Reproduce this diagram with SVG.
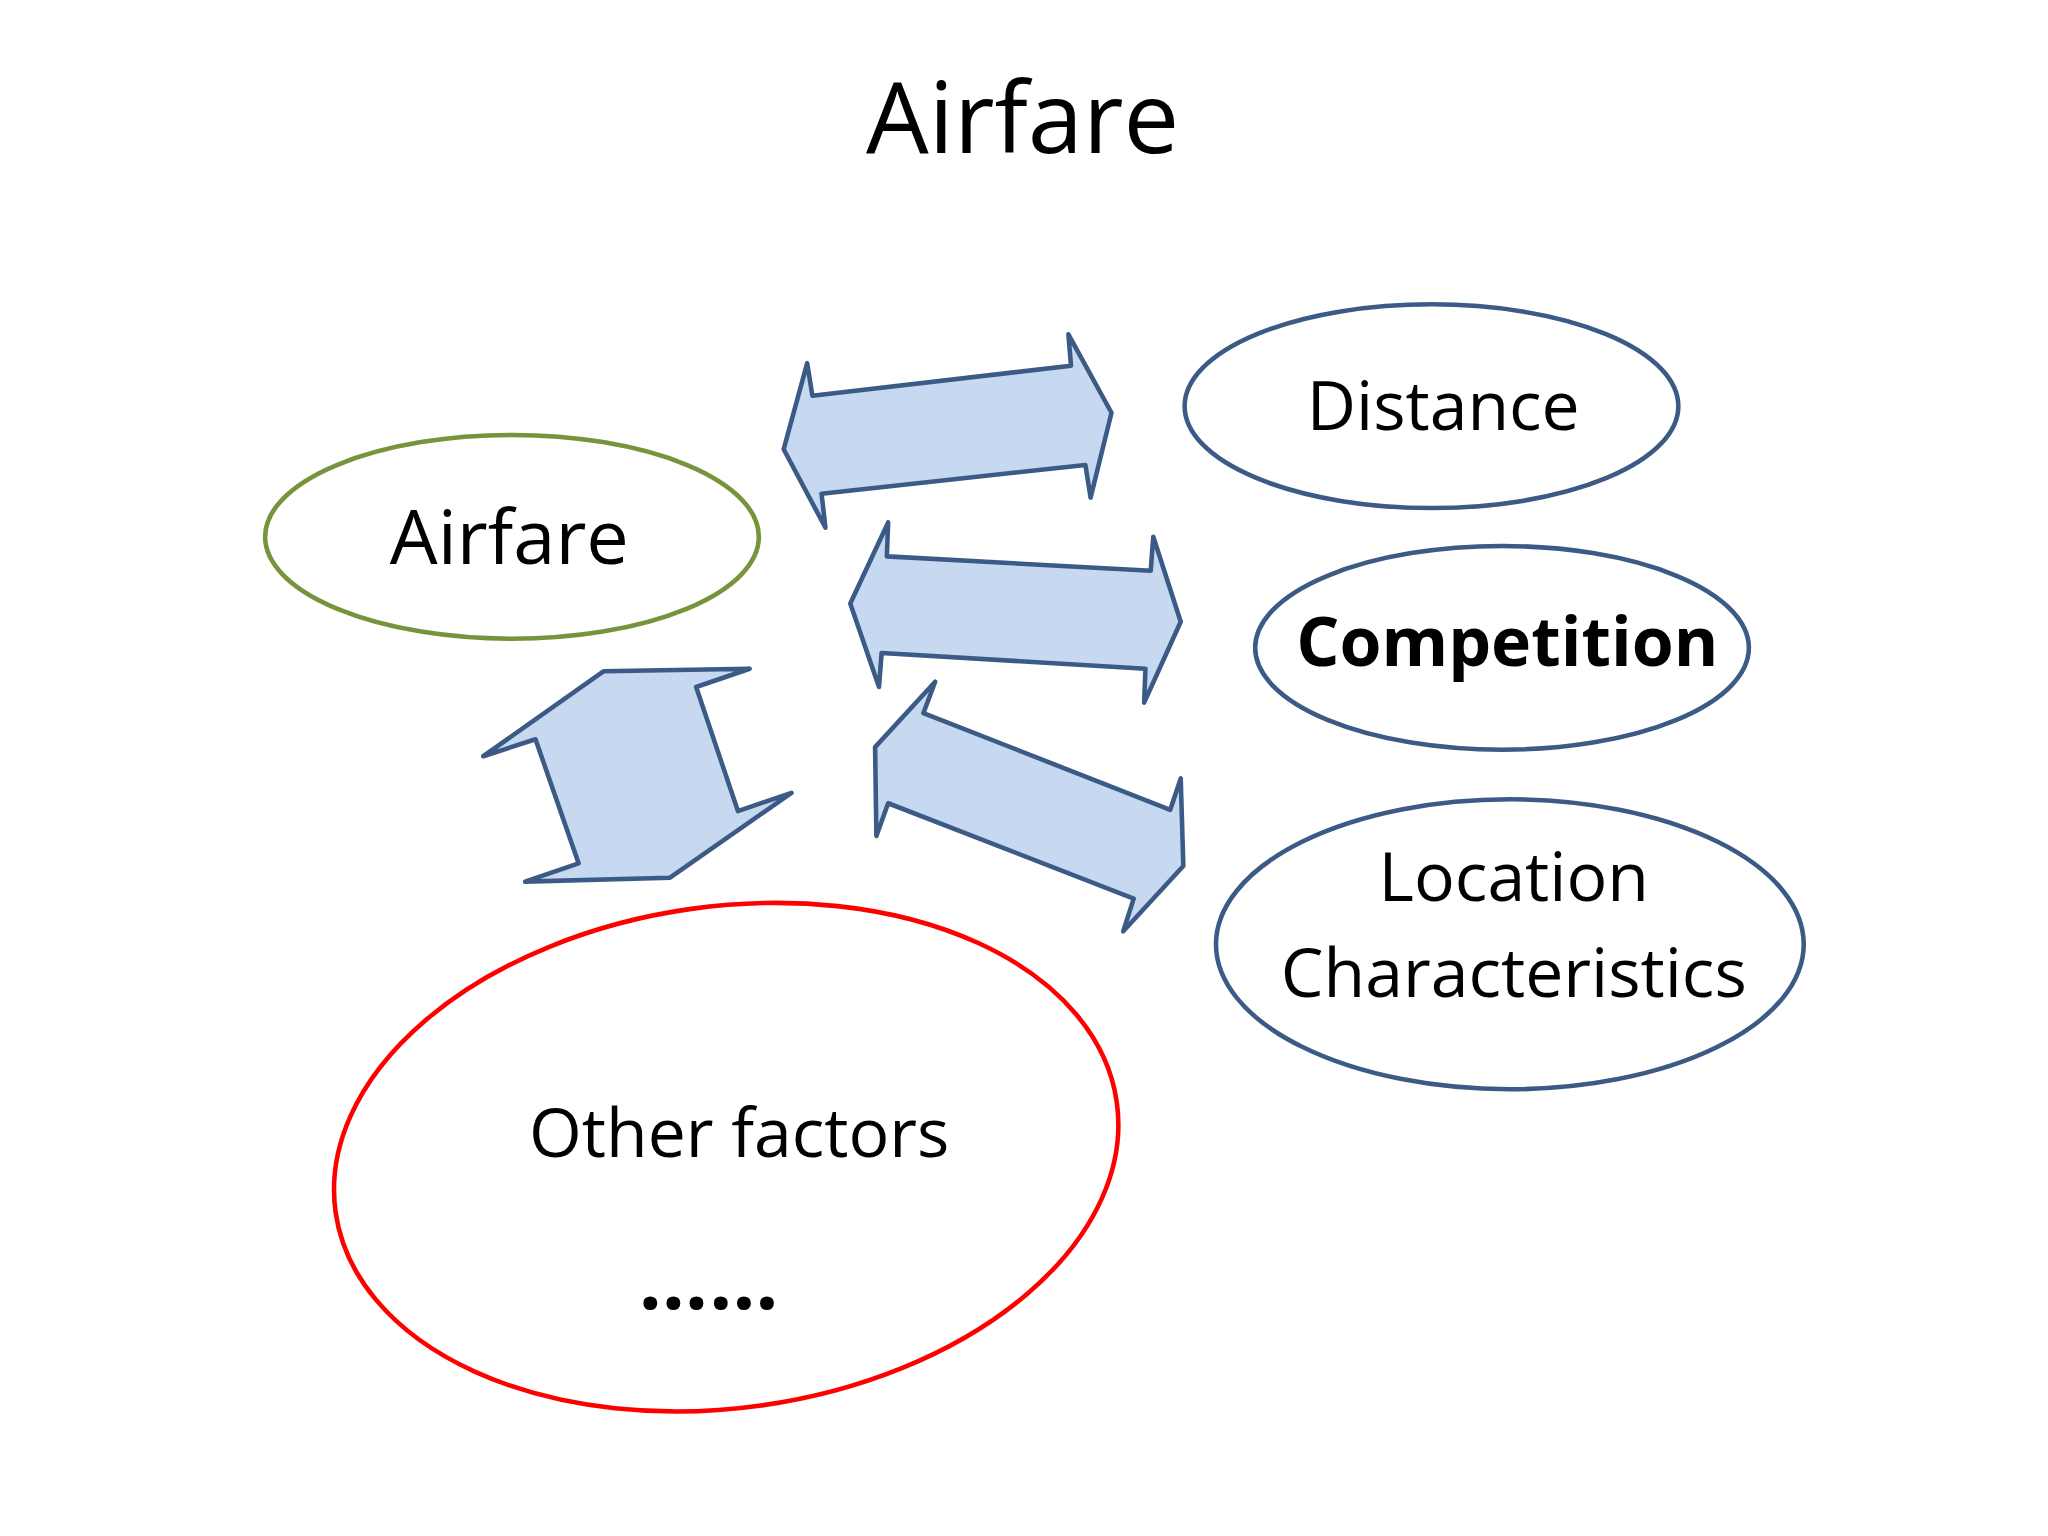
<svg xmlns="http://www.w3.org/2000/svg" width="2048" height="1536" viewBox="0 0 2048 1536">
<style>
text{font-family:"Open Sans","Liberation Sans",sans-serif;fill:#000;text-anchor:middle}
.e{fill:#fff;stroke-width:3.5}
.a{fill:#C6D9F1;stroke:#3B5A85;stroke-width:3.5;stroke-linejoin:round}
</style>
<rect width="2048" height="1536" fill="#fff"/>
<g transform="scale(1.3061)">
<text x="783" y="117" font-size="76">Airfare</text>
<g id="airfare"><ellipse class="e" cx="392" cy="411" rx="189" ry="78" stroke="#77933C"/><text x="390" y="432" font-size="58">Airfare</text></g>
<g id="distance"><ellipse class="e" cx="1096" cy="311" rx="189" ry="78" stroke="#3B5A85"/><text x="1105" y="329" font-size="52">Distance</text></g>
<g id="competition"><ellipse class="e" cx="1150" cy="496" rx="189" ry="78" stroke="#3B5A85"/><text x="1154" y="510" font-size="52" font-weight="bold">Competition</text></g>
<g id="location"><ellipse class="e" cx="1156" cy="723" rx="225" ry="111" stroke="#3B5A85"/><text x="1159" y="690" font-size="52">Location</text><text x="1159" y="763" font-size="52">Characteristics</text></g>
<g id="other"><ellipse class="e" cx="556" cy="886" rx="302" ry="192" stroke="#FF0000" transform="rotate(-8 556 886)"/><text x="566" y="886" font-size="52">Other factors</text><text x="543" y="1002" font-size="62" font-weight="bold" letter-spacing="1">……</text></g>
<g id="connectors">
<polygon class="a" points="618,278 622,303 820,280 818,256 851,316 835,381 831,356 629,378 632,404 600,344"/>
<polygon class="a" points="680,400 679,426 881,437 883,411 904,476 876,538 877,512 675,500 673,526 651,462"/>
<polygon class="a" points="716,522 707,546 896,620 904,596 906,663 860,713 868,688 680,615 671,640 670,572"/>
<polygon class="a" points="574,512 533,526 565,621 606,607 513,672 402,675 443,661 410,566 370,579 462,514"/>
</g>
</g>
</svg>
